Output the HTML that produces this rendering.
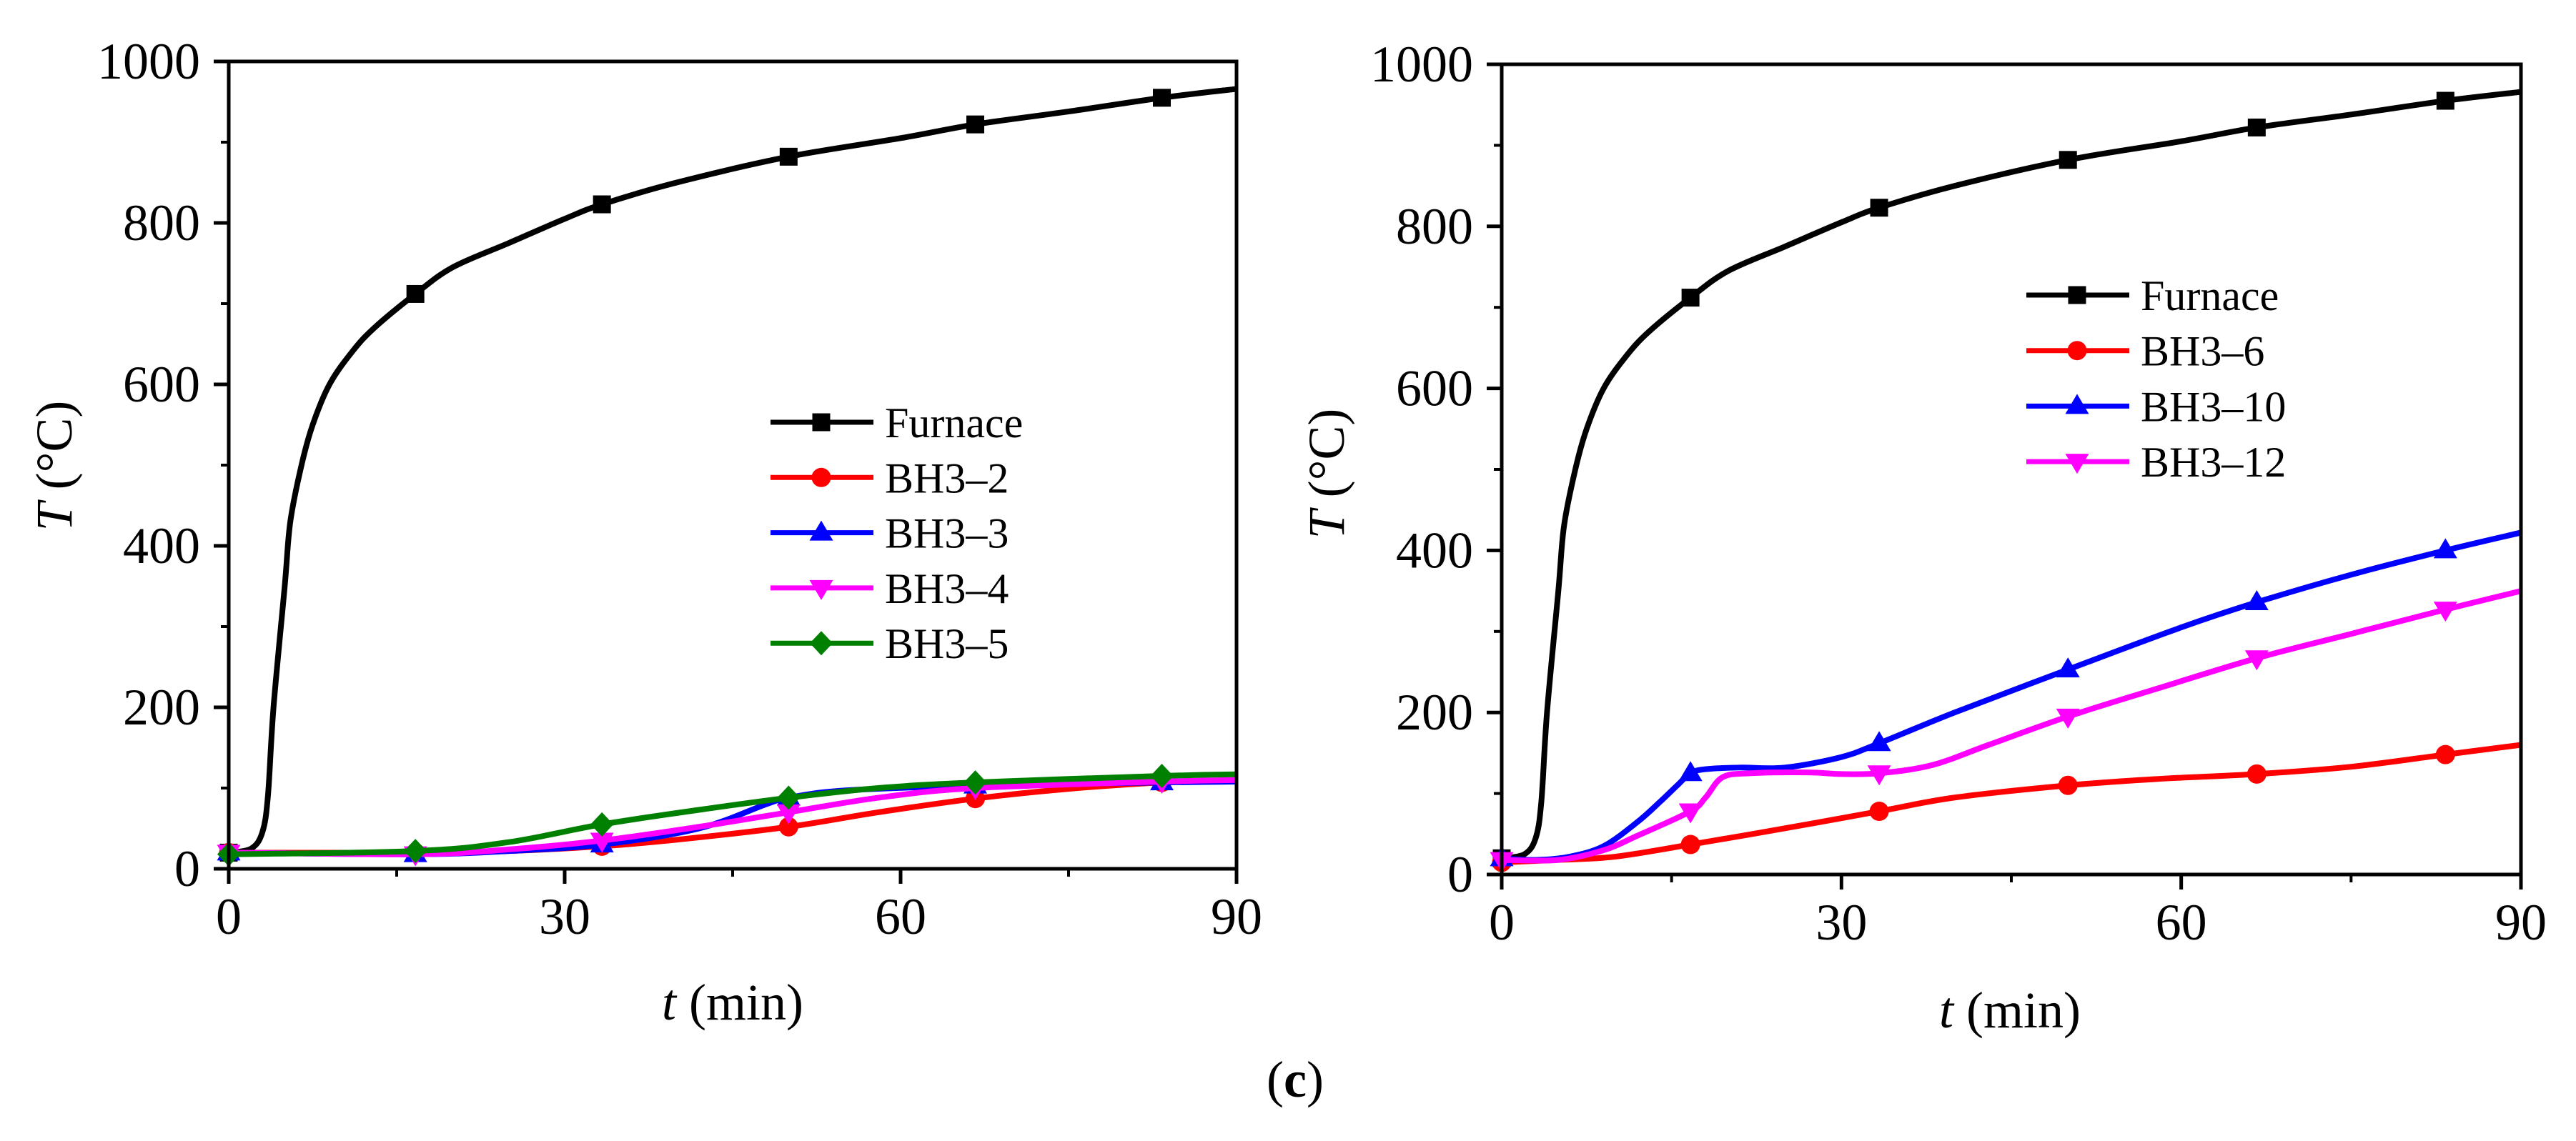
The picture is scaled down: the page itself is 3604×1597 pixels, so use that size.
<!DOCTYPE html>
<html><head><meta charset="utf-8"><style>
html,body{margin:0;padding:0;background:#fff;}
svg{display:block;font-family:"Liberation Serif","Times New Roman",serif;}
</style></head><body>
<svg id="fig" width="3604" height="1597" viewBox="0 0 3604 1597" xmlns="http://www.w3.org/2000/svg">
<text x="1812" y="1535" font-size="72" text-anchor="middle">(<tspan font-weight="bold">c</tspan>)</text>
</svg>
<script>
// ---- data ----
const furnaceT = [0,2,3,3.5,4,5,5.5,6.5,7.5,9,11,13,16.67,20,25,30,33.33,40,50,60,66.67,75,83.33,90];
const furnaceV = [20,25,45,90,200,350,430,500,550,600,640,670,712,745,775,805,823,850,882,905,922,938,955,966];
const bh2T = [0,16.67,25,33.33,40,50,58,66.67,75,83.33,90];
const bh2V = [20,20,22,28,36,52,70,87,99,107,110];
const bh3T = [0,16.67,25,33.33,42,48,50,55,66.67,83.33,90];
const bh3V = [20,18,22,30,50,80,88,97,103,107,108];
const bh4T = [0,16.67,25,33.33,42,50,58,66.67,83.33,90];
const bh4V = [20,18,24,35,52,70,88,100,108,110];
const bh5T = [0,16.67,25,33.33,42,50,58,66.67,83.33,90];
const bh5V = [18,22,33,55,73,88,100,107,115,117];
const bh6T = [0,5,10,16.67,25,33.33,40,50,58,66.67,75,83.33,90];
const bh6V = [15,18,22,37,57,78,95,110,118,124,133,148,160];
const bh10T = [0,3,6,9,12,14,15.5,16.67,18,21,25,30,33.33,40,50,60,66.67,75,83.33,90];
const bh10V = [20,18,22,35,65,90,110,125,130,132,132,145,162,200,253,305,336,370,400,422];
const bh12T = [0,5,9,12,16.67,18,19.5,22,27,30,33.33,38,43,50,58,66.67,75,83.33,90];
const bh12V = [18,18,30,48,78,95,120,125,126,124,125,135,160,195,230,267,297,327,350];
const markerT = [0,16.67,33.33,50,66.67,83.33];
const xTicks = [0,30,60,90];
const yTicks = [0,200,400,600,800,1000];
const xMinor = [15,45,75];
const yMinor = [100,300,500,700,900];

const NS="http://www.w3.org/2000/svg";
const svg=document.getElementById('fig');
function mk(tag,attrs,parent){const e=document.createElementNS(NS,tag);for(const k in attrs)e.setAttribute(k,attrs[k]);(parent||svg).appendChild(e);return e;}
function interp(T,V,t){for(let i=0;i<T.length-1;i++){if(t>=T[i]&&t<=T[i+1]){const f=(t-T[i])/(T[i+1]-T[i]);return V[i]+f*(V[i+1]-V[i]);}}return V[V.length-1];}
function smoothPath(pts){let d='M'+pts[0][0]+','+pts[0][1];for(let i=0;i<pts.length-1;i++){const p0=pts[Math.max(0,i-1)],p1=pts[i],p2=pts[i+1],p3=pts[Math.min(pts.length-1,i+2)];const c1x=p1[0]+(p2[0]-p0[0])/6,c1y=p1[1]+(p2[1]-p0[1])/6,c2x=p2[0]-(p3[0]-p1[0])/6,c2y=p2[1]-(p3[1]-p1[1])/6;d+=' C'+c1x+','+c1y+' '+c2x+','+c2y+' '+p2[0]+','+p2[1];}return d;}
function marker(g,type,x,y,color){
  let e;
  if(type==='square'){e=mk('rect',{x:x-12.5,y:y-12.5,width:25,height:25,fill:color},g);}
  else if(type==='circle'){e=mk('circle',{cx:x,cy:y,r:13.5,fill:color},g);}
  else if(type==='up'){e=mk('polygon',{points:(x)+','+(y-17)+' '+(x-16.5)+','+(y+11)+' '+(x+16.5)+','+(y+11),fill:color},g);}
  else if(type==='down'){e=mk('polygon',{points:(x)+','+(y+17)+' '+(x-16.5)+','+(y-11)+' '+(x+16.5)+','+(y-11),fill:color},g);}
  else {e=mk('polygon',{points:x+','+(y-17)+' '+(x+16)+','+y+' '+x+','+(y+17)+' '+(x-16)+','+y,fill:color},g);}
  
  
}
function panel(cfg){
  const {L,R,T,B,series,legend,id}=cfg;
  const sx=t=>L+(t/90)*(R-L), sy=v=>B-(v/1000)*(B-T);
  const g=mk('g',{});
  
  
  series.forEach(s=>{
    const pts=s.T.map((t,i)=>[sx(t),sy(s.V[i])]);
    const p=mk('path',{d:smoothPath(pts),fill:'none',stroke:s.color,'stroke-width':8,'stroke-linejoin':'round'},g);
    
    
    markerT.forEach(t=>marker(g,s.marker,sx(t),sy(interp(s.T,s.V,t)),s.color));
  });
  const fr=mk('rect',{x:L,y:T,width:R-L,height:B-T,fill:'none',stroke:'#000','stroke-width':5},g);
  
  
  xTicks.forEach(t=>{
    const l=mk('line',{x1:sx(t),x2:sx(t),y1:B,y2:B+21,stroke:'#000','stroke-width':5},g);
    
    
    const tx=mk('text',{x:sx(t),y:B+91,'font-size':72,'text-anchor':'middle'},g);tx.textContent=t;
    
    
  });
  xMinor.forEach(t=>{const l=mk('line',{x1:sx(t),x2:sx(t),y1:B,y2:B+11,stroke:'#000','stroke-width':4},g);
    
    });
  yTicks.forEach(v=>{
    const l=mk('line',{x1:L-21,x2:L,y1:sy(v),y2:sy(v),stroke:'#000','stroke-width':5},g);
    
    
    const tx=mk('text',{x:L-40,y:sy(v)+24,'font-size':72,'text-anchor':'end'},g);tx.textContent=v;
    
    
  });
  yMinor.forEach(v=>{const l=mk('line',{x1:L-11,x2:L,y1:sy(v),y2:sy(v),stroke:'#000','stroke-width':4},g);
    
    });
  const xt=mk('text',{x:cfg.xtx,y:cfg.xty,'font-size':72,'text-anchor':'middle'},g);
  xt.innerHTML='<tspan font-style="italic">t</tspan> (min)';
  
  
  const yt=mk('text',{x:0,y:0,'font-size':72,'text-anchor':'middle',transform:'translate('+cfg.ytx+','+cfg.yty+') rotate(-90)'},g);
  yt.innerHTML='<tspan font-style="italic">T</tspan> (°C)';
  
  
  series.forEach((s,i)=>{
    const y=legend.y0+i*legend.dy;
    const lg=mk('g',{},g);
    
    
    mk('line',{x1:legend.x0,x2:legend.x0+144,y1:y,y2:y,stroke:s.color,'stroke-width':7},lg);
    marker(lg,s.marker,legend.x0+71,y,s.color);
    const tx=mk('text',{x:legend.x0+160,y:y+21,'font-size':60},lg);tx.textContent=s.name;
  });
}
panel({id:'left-chart',L:320,R:1730,T:86,B:1216,xtx:1025,xty:1427,ytx:100,yty:652,
  legend:{x0:1078,y0:591,dy:77.3},
  series:[
   {name:'Furnace',T:furnaceT,V:furnaceV,color:'#000',marker:'square'},
   {name:'BH3–2',T:bh2T,V:bh2V,color:'#ff0000',marker:'circle'},
   {name:'BH3–3',T:bh3T,V:bh3V,color:'#0000ff',marker:'up'},
   {name:'BH3–4',T:bh4T,V:bh4V,color:'#ff00ff',marker:'down'},
   {name:'BH3–5',T:bh5T,V:bh5V,color:'#008000',marker:'diamond'}]});
panel({id:'right-chart',L:2101,R:3527,T:90,B:1224,xtx:2812,xty:1438,ytx:1880,yty:663,
  legend:{x0:2835,y0:413,dy:77.7},
  series:[
   {name:'Furnace',T:furnaceT,V:furnaceV,color:'#000',marker:'square'},
   {name:'BH3–6',T:bh6T,V:bh6V,color:'#ff0000',marker:'circle'},
   {name:'BH3–10',T:bh10T,V:bh10V,color:'#0000ff',marker:'up'},
   {name:'BH3–12',T:bh12T,V:bh12V,color:'#ff00ff',marker:'down'}]});
</script>
</body></html>
